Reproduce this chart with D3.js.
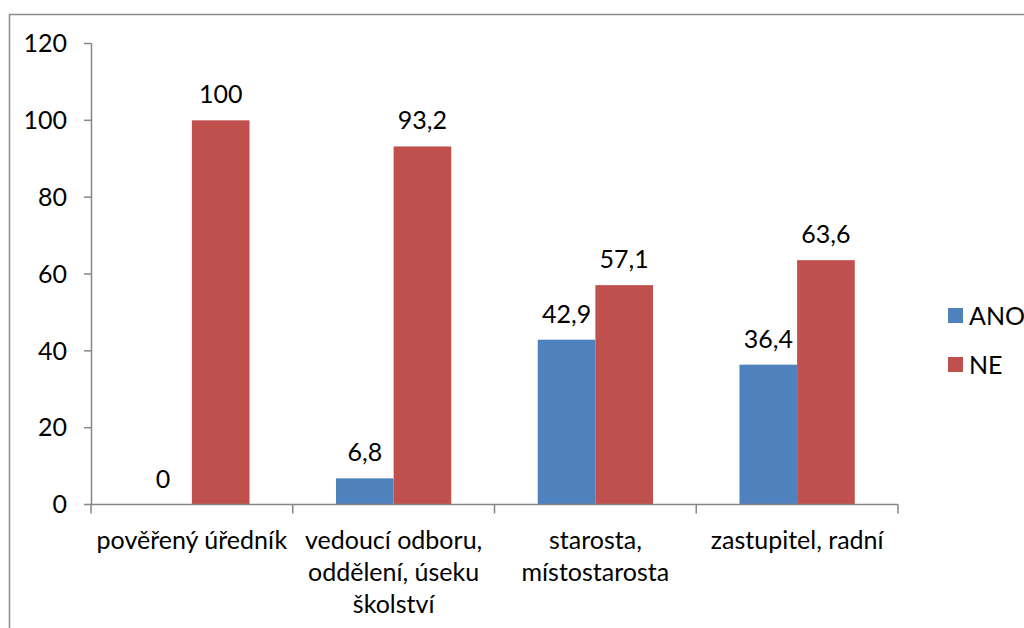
<!DOCTYPE html>
<html><head><meta charset="utf-8">
<script src="https://cdn.jsdelivr.net/npm/d3@7"></script>
<style>body{margin:0;background:#fff}svg{display:block}text{font-family:Lato,"Open Sans",sans-serif;fill:#000}</style>
</head><body><svg id="c" width="1024" height="628"></svg>
<script>
const categories = [["pověřený úředník"],["vedoucí odboru,","oddělení, úseku","školství"],["starosta,","místostarosta"],["zastupitel, radní"]];
const seriesNames = ["ANO","NE"];
const ano = [0, 6.8, 42.9, 36.4];
const ne = [100, 93.2, 57.1, 63.6];
const anoLabels = ["0","6,8","42,9","36,4"];
const neLabels = ["100","93,2","57,1","63,6"];
const yTicks = [0,20,40,60,80,100,120];
const colors = ["#4F81BD","#C0504D"];

const svg = d3.select("#c");
const fs = 25;
svg.append("rect").attr("x",9.5).attr("y",14.5).attr("width",1100).attr("height",700)
  .attr("fill","none").attr("stroke","#8c8c8c").attr("stroke-width",1.5);

const x0 = d3.scaleBand().domain(d3.range(categories.length)).range([91,898]);
const x1 = d3.scaleBand().domain([0,1]).range([0,x0.bandwidth()]).paddingOuter(0.75).paddingInner(0);
const y = d3.scaleLinear().domain([0,120]).range([504.5,43.5]);

const series = [ano, ne], labels = [anoLabels, neLabels];
series.forEach((vals,s)=>{
  const g = svg.append("g");
  g.selectAll("rect").data(vals).join("rect")
    .attr("x",(d,i)=>x0(i)+x1(s)).attr("width",x1.bandwidth())
    .attr("y",d=>y(d)).attr("height",d=>y(0)-y(d)).attr("fill",colors[s]);
  g.selectAll("text").data(vals).join("text")
    .attr("x",(d,i)=>x0(i)+x1(s)+x1.bandwidth()/2).attr("y",d=>y(d)-17)
    .attr("text-anchor","middle").attr("font-size",fs).text((d,i)=>labels[s][i]);
});

// y axis
const ya = svg.append("g");
ya.append("line").attr("x1",91.5).attr("x2",91.5).attr("y1",y(120)).attr("y2",y(0)).attr("stroke","#868686").attr("stroke-width",1.5);
ya.selectAll("line.t").data(yTicks).join("line").attr("class","t")
  .attr("x1",84).attr("x2",91.5).attr("y1",d=>y(d)).attr("y2",d=>y(d)).attr("stroke","#868686").attr("stroke-width",1.5);
ya.selectAll("text").data(yTicks).join("text")
  .attr("x",67).attr("y",d=>y(d)).attr("dy","0.35em").attr("text-anchor","end").attr("font-size",fs).text(d=>d);

// x axis
const xa = svg.append("g");
xa.append("line").attr("x1",91).attr("x2",898).attr("y1",y(0)).attr("y2",y(0)).attr("stroke","#868686").attr("stroke-width",1.5);
const bounds = d3.range(categories.length+1).map(i=> i<categories.length ? x0(i) : x0(i-1)+x0.bandwidth());
xa.selectAll("line.t").data(bounds).join("line").attr("class","t")
  .attr("x1",d=>d).attr("x2",d=>d).attr("y1",y(0)).attr("y2",y(0)+9).attr("stroke","#868686").attr("stroke-width",1.5);
categories.forEach((lines,i)=>{
  const t = xa.append("text").attr("text-anchor","middle").attr("font-size",fs);
  lines.forEach((l,j)=>t.append("tspan").attr("x",x0(i)+x0.bandwidth()/2).attr("y",549+j*32).text(l));
});

// legend
const lg = svg.append("g");
seriesNames.forEach((n,i)=>{
  lg.append("rect").attr("x",948).attr("y",308+i*49).attr("width",15).attr("height",15).attr("fill",colors[i]);
  lg.append("text").attr("x",969).attr("y",316+i*49).attr("dy","0.35em").attr("font-size",fs).text(n);
});
</script></body></html>
